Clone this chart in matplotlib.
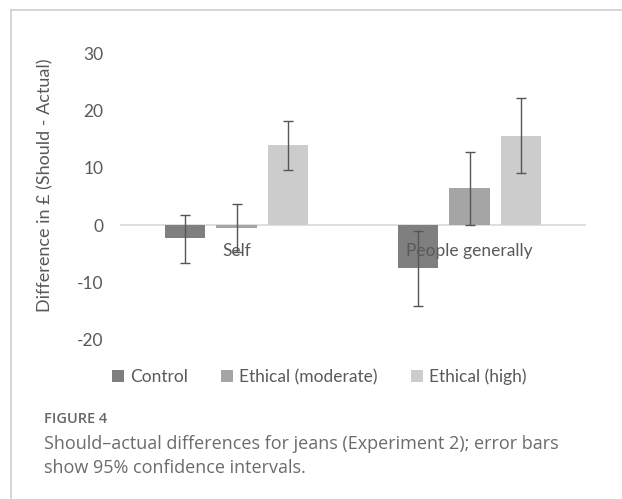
import numpy as np
import matplotlib.pyplot as plt

# Should-actual differences (GBP) with 95% CI bounds
groups = ["Self", "People generally"]
conditions = ["Control", "Ethical (moderate)", "Ethical (high)"]
means = {
    "Control": [-2.3, -7.5],
    "Ethical (moderate)": [-0.5, 6.4],
    "Ethical (high)": [13.9, 15.6],
}
ci_low = {
    "Control": [-6.6, -14.0],
    "Ethical (moderate)": [-4.7, 0.0],
    "Ethical (high)": [9.7, 9.1],
}
ci_high = {
    "Control": [1.8, -1.0],
    "Ethical (moderate)": [3.7, 12.8],
    "Ethical (high)": [18.2, 22.1],
}
colors = ["#7f7f7f", "#a5a5a5", "#cccccc"]
yticks = [-20, -10, 0, 10, 20, 30]

W, H = 622, 499
fig = plt.figure(figsize=(W / 100, H / 100), dpi=100)
fig.patch.set_facecolor("white")

# panel frame (open at right and bottom)
fig.add_artist(plt.Line2D([11 / W, 11 / W], [0, 1 - 10 / H], color="#cfcfcf", lw=1.2))
fig.add_artist(plt.Line2D([11 / W, 1], [1 - 10 / H, 1 - 10 / H], color="#cfcfcf", lw=1.2))

ax = fig.add_axes([120 / W, 159 / H, 466 / W, 287 / H])
font = "Lato"
x = np.arange(len(groups))
width = 0.172
step = 0.223
for i, cond in enumerate(conditions):
    pos = x + (i - 1) * step
    m = np.array(means[cond])
    lo = m - np.array(ci_low[cond])
    hi = np.array(ci_high[cond]) - m
    ax.bar(pos, m, width, color=colors[i], label=cond, zorder=2)
    ax.errorbar(pos, m, yerr=[lo, hi], fmt="none", ecolor="#555555",
                elinewidth=1, capsize=3.5, capthick=1, zorder=3)

ax.axhline(0, color="#d9d9d9", lw=1.2, zorder=1)
ax.set_xlim(-0.5, 1.5)
ax.set_ylim(-20, 30)
ax.set_yticks(yticks)
ax.set_yticklabels([str(t) for t in yticks], fontsize=12.5, family=font, color="#595959")
ax.tick_params(axis="y", length=0, pad=12)
ax.set_xticks([])
for s in ax.spines.values():
    s.set_visible(False)

for i, g in enumerate(groups):
    ax.annotate(g, (x[i], 0), xytext=(0, -26), textcoords="offset pixels",
                ha="center", va="center", fontsize=12.5, family=font,
                color="#595959", zorder=4)

ax.set_ylabel("Difference in £ (Should - Actual)", fontsize=13, family=font,
              color="#595959")
ax.yaxis.set_label_coords(-0.142, 0.54)

leg = fig.legend(loc="center", bbox_to_anchor=(319 / W, 1 - 377 / H), ncol=3,
                 frameon=False, prop={"family": font, "size": 12.5},
                 handlelength=0.7, handleheight=0.7, handletextpad=0.35,
                 columnspacing=1.9)
for t in leg.get_texts():
    t.set_color("#595959")

fig.text(44 / W, 1 - 419 / H, "FIGURE 4", fontsize=10.5, family="Open Sans",
         color="#666666", va="center", weight="semibold")
fig.text(44 / W, 1 - 444 / H, "Should\u2013actual differences for jeans (Experiment 2); error bars",
         fontsize=13, family="Open Sans", color="#6b6b6b", va="center")
fig.text(44 / W, 1 - 468 / H, "show 95% confidence intervals.",
         fontsize=13, family="Open Sans", color="#6b6b6b", va="center")

fig.savefig("out.png", dpi=100)
